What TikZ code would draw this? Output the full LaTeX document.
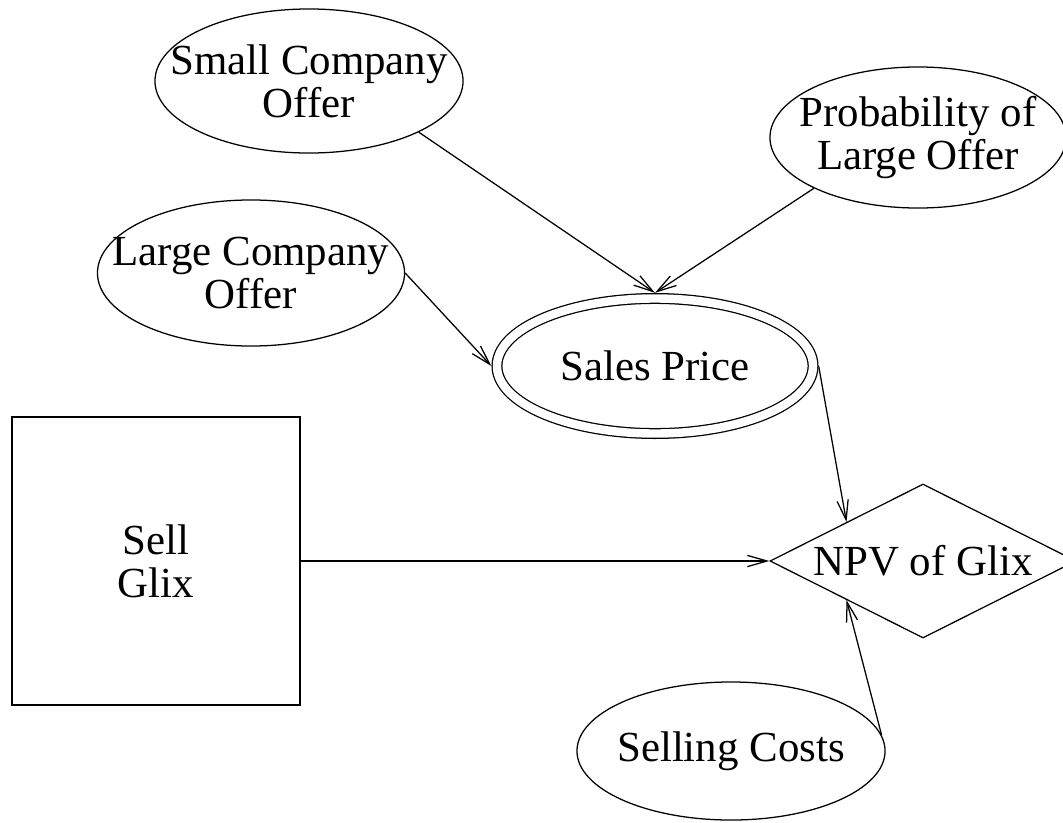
\documentclass[tikz,border=0pt]{standalone}
\usepackage{fontspec}
\setmainfont{Liberation Serif}
\usetikzlibrary{shapes.geometric,arrows.meta}
\begin{document}
\begin{tikzpicture}[x=0.025cm,y=-0.025cm]
        \tikzstyle{txt}=[align=center,font=\fontsize{30.5}{30.8}\selectfont]
        \tikzstyle{chance}=[ellipse,draw,line width=0.9pt,inner sep=0pt]
        \tikzstyle{calc}=[ellipse,draw,double,double distance=6pt,line width=0.9pt,inner sep=0pt,outer sep=4pt]
        \tikzstyle{decision}=[rectangle,draw,line width=0.9pt,txt,minimum size=7.2cm]
        \tikzstyle{value}=[diamond,draw,line width=0.9pt,inner sep=0pt]
        \tikzstyle{arr}=[line width=0.9pt,-{Straight Barb[length=14pt,width=8pt]}]

      \useasboundingbox (0,0) rectangle (1063,822);

      \begin{scope}
         \node[chance,minimum width=7.7cm,minimum height=3.6cm,
               label={[txt]center:Small Company\\Offer}] (small) at (309,81) {};
         \node[chance,minimum width=7.4cm,minimum height=3.525cm,
               label={[txt]center:Probability of\\Large Offer}] (prob) at (918,137.5) {};
         \node[chance,minimum width=7.675cm,minimum height=3.65cm,
               label={[txt]center:Large Company\\Offer}] (large) at (251,273) {};
         \node[calc,minimum width=7.9cm,minimum height=3.375cm,
               label={[txt]center:Sales Price}] (sales) at (655,366) {};

         \node[decision] (sell) at (156,561) {Sell\\Glix};
         \node[value,minimum width=7.65cm,minimum height=3.85cm,
               label={[txt]center:NPV of Glix}] (npv) at (923,561) {};

         \node[chance,minimum width=7.7cm,minimum height=3.45cm,
               label={[txt]center:Selling Costs}] (costs) at (731,751) {};

         \draw[arr] (small.-25) to (sales.north);
         \draw[arr] (prob.-154) to (sales.north);
         \draw[arr] (large.east) to (sales.west);
         \draw[arr] (sales.east) to (npv.153);
         \draw[arr] (sell.east)  to (npv.west);
         \draw[arr] (costs.6)    to (npv.-153);
      \end{scope}
    \end{tikzpicture}
\end{document}
